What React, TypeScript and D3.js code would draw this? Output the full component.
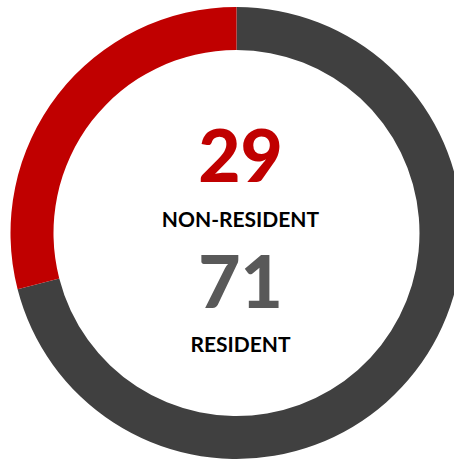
import React from 'react';
import * as d3 from 'd3';

const categories = ['RESIDENT', 'NON-RESIDENT'];
const values = [71, 29];
const colors = ['#404040', '#C00000'];
const numberColors = ['#595959', '#C00000'];

const width = 454;
const height = 461;

export default function App() {
  const cx = 236.5;
  const cy = 233;
  const outer = 226;
  const inner = 183;

  const pie = d3.pie<number>().sort(null).value(d => d);
  const arcs = pie(values);
  const arc = d3.arc<d3.PieArcDatum<number>>().innerRadius(inner).outerRadius(outer);

  const font = 'Lato, "Open Sans", sans-serif';

  return (
    <div style={{ position: 'fixed', left: 0, top: 0 }}>
      <svg width={width} height={height} style={{ display: 'block', background: '#fff' }}>
        <g transform={`translate(${cx},${cy})`}>
          {arcs.map((a, i) => (
            <path key={categories[i]} d={arc(a) || ''} fill={colors[i]} />
          ))}
        </g>
        <g fontFamily={font} textAnchor="middle">
          <text x={240.5} y={182} fontSize={73} fontWeight={900} fill={numberColors[1]}>{values[1]}</text>
          <text x={240.5} y={227} fontSize={21} fontWeight={700} fill="#000">{categories[1]}</text>
          <text x={240.5} y={308} fontSize={73} fontWeight={900} fill={numberColors[0]}>{values[0]}</text>
          <text x={240.5} y={352} fontSize={21} fontWeight={700} fill="#000">{categories[0]}</text>
        </g>
      </svg>
    </div>
  );
}
